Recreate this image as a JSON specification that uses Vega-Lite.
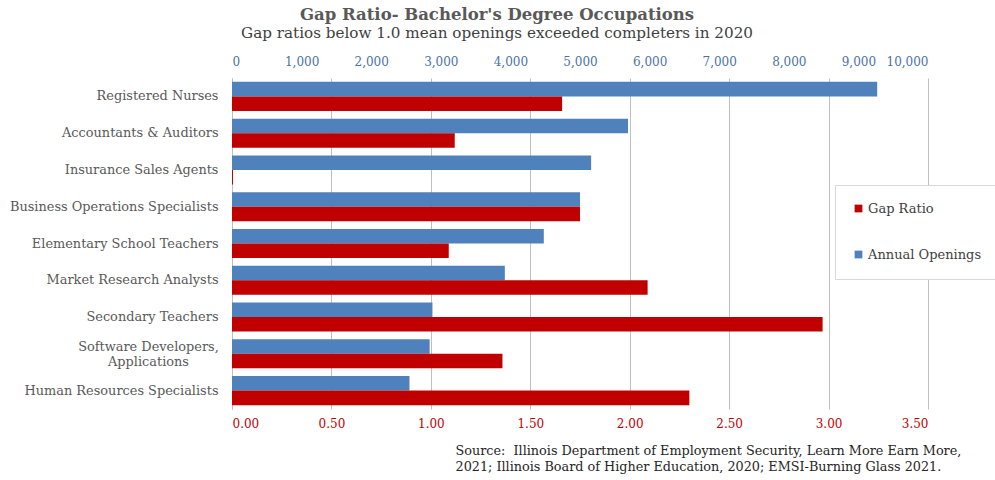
{
  "$schema": "https://vega.github.io/schema/vega-lite/v6.json",
  "width": 696,
  "height": 331,
  "autosize": "none",
  "padding": {"left": 232, "top": 78, "right": 67, "bottom": 71},
  "background": "white",
  "config": {"font": "DejaVu Serif", "view": {"stroke": null}},
  "title": {
    "text": "Gap Ratio- Bachelor's Degree Occupations",
    "subtitle": "Gap ratios below 1.0 mean openings exceeded completers in 2020",
    "anchor": "middle",
    "dx": -83,
    "fontSize": 16.5,
    "fontWeight": "bold",
    "color": "#595959",
    "subtitleFontSize": 15.2,
    "subtitleColor": "#404040",
    "subtitlePadding": 2,
    "offset": 14
  },
  "data": {
    "values": [
      {"occupation": "Registered Nurses", "series": "Annual Openings", "value": 9270},
      {"occupation": "Registered Nurses", "series": "Gap Ratio", "value": 1.66},
      {"occupation": "Accountants & Auditors", "series": "Annual Openings", "value": 5690},
      {"occupation": "Accountants & Auditors", "series": "Gap Ratio", "value": 1.12},
      {"occupation": "Insurance Sales Agents", "series": "Annual Openings", "value": 5160},
      {"occupation": "Insurance Sales Agents", "series": "Gap Ratio", "value": 0.005},
      {"occupation": "Business Operations Specialists", "series": "Annual Openings", "value": 5000},
      {"occupation": "Business Operations Specialists", "series": "Gap Ratio", "value": 1.75},
      {"occupation": "Elementary School Teachers", "series": "Annual Openings", "value": 4480},
      {"occupation": "Elementary School Teachers", "series": "Gap Ratio", "value": 1.09},
      {"occupation": "Market Research Analysts", "series": "Annual Openings", "value": 3920},
      {"occupation": "Market Research Analysts", "series": "Gap Ratio", "value": 2.09},
      {"occupation": "Secondary Teachers", "series": "Annual Openings", "value": 2880},
      {"occupation": "Secondary Teachers", "series": "Gap Ratio", "value": 2.97},
      {"occupation": "Software Developers, Applications", "series": "Annual Openings", "value": 2840},
      {"occupation": "Software Developers, Applications", "series": "Gap Ratio", "value": 1.36},
      {"occupation": "Human Resources Specialists", "series": "Annual Openings", "value": 2550},
      {"occupation": "Human Resources Specialists", "series": "Gap Ratio", "value": 2.30}
    ]
  },
  "encoding": {
    "y": {
      "field": "occupation",
      "type": "nominal",
      "sort": null,
      "scale": {"paddingInner": 0.21, "paddingOuter": 0.105},
      "axis": {
        "title": null,
        "ticks": false,
        "domain": true,
        "domainColor": "#bfbfbf",
        "labelColor": "#595959",
        "labelFontSize": 12.9,
        "labelLimit": 300,
        "labelExpr": "datum.label == 'Software Developers, Applications' ? ['Software Developers,', 'Applications'] : datum.label",
        "labelAlign": {"condition": {"test": "datum.value == 'Software Developers, Applications'", "value": "center"}, "value": "right"},
        "labelPadding": {"condition": {"test": "datum.value == 'Software Developers, Applications'", "value": 84}, "value": 14},
        "labelOffset": {"condition": {"test": "datum.value == 'Software Developers, Applications'", "value": -7}, "value": 0},
        "labelLineHeight": 15
      }
    },
    "yOffset": {
      "field": "series",
      "type": "nominal",
      "scale": {"domain": ["Annual Openings", "Gap Ratio"], "paddingInner": 0, "paddingOuter": 0}
    },
    "color": {
      "field": "series",
      "type": "nominal",
      "scale": {"domain": ["Gap Ratio", "Annual Openings"], "range": ["#C00000", "#4F81BD"]},
      "legend": {
        "title": null,
        "orient": "none",
        "legendX": 603,
        "legendY": 107,
        "fillColor": "white",
        "strokeColor": "#d9d9d9",
        "padding": 17,
        "rowPadding": 32,
        "symbolType": "square",
        "symbolSize": 60,
        "symbolStrokeWidth": 0,
        "labelFontSize": 13,
        "labelColor": "#404040",
        "labelOffset": 3
      }
    }
  },
  "layer": [
    {
      "transform": [{"filter": "datum.series == 'Annual Openings'"}],
      "mark": {"type": "bar"},
      "encoding": {
        "x": {
          "field": "value",
          "type": "quantitative",
          "scale": {"domain": [0, 10000], "nice": false},
          "axis": {
            "orient": "top",
            "title": null,
            "values": [0, 1000, 2000, 3000, 4000, 5000, 6000, 7000, 8000, 9000, 10000],
            "labelExpr": "format(datum.value, ',d')",
            "grid": false,
            "ticks": false,
            "domain": false,
            "labelColor": "#4a72a8",
            "labelFontSize": 12,
            "labelPadding": 10
          }
        }
      }
    },
    {
      "transform": [{"filter": "datum.series == 'Gap Ratio'"}],
      "mark": {"type": "bar"},
      "encoding": {
        "x": {
          "field": "value",
          "type": "quantitative",
          "scale": {"domain": [0, 3.5], "nice": false},
          "axis": {
            "orient": "bottom",
            "values": [0, 0.5, 1, 1.5, 2, 2.5, 3, 3.5],
            "labelExpr": "format(datum.value, '.2f')",
            "grid": true,
            "gridColor": "#bfbfbf",
            "ticks": false,
            "domain": false,
            "labelColor": "#c00000",
            "labelFontSize": 12,
            "labelPadding": 9,
            "title": ["Source:\u00a0 Illinois Department of Employment Security, Learn More Earn More,", "2021; Illinois Board of Higher Education, 2020; EMSI-Burning Glass 2021."],
            "titleFontWeight": "normal",
            "titleFontSize": 12.8,
            "titleColor": "#262626",
            "titleAlign": "left",
            "titleBaseline": "top",
            "titleAnchor": "start",
            "titleX": 223,
            "titleY": 35,
            "titleLineHeight": 16
          }
        }
      }
    }
  ],
  "resolve": {"scale": {"x": "independent"}, "axis": {"x": "independent"}}
}
